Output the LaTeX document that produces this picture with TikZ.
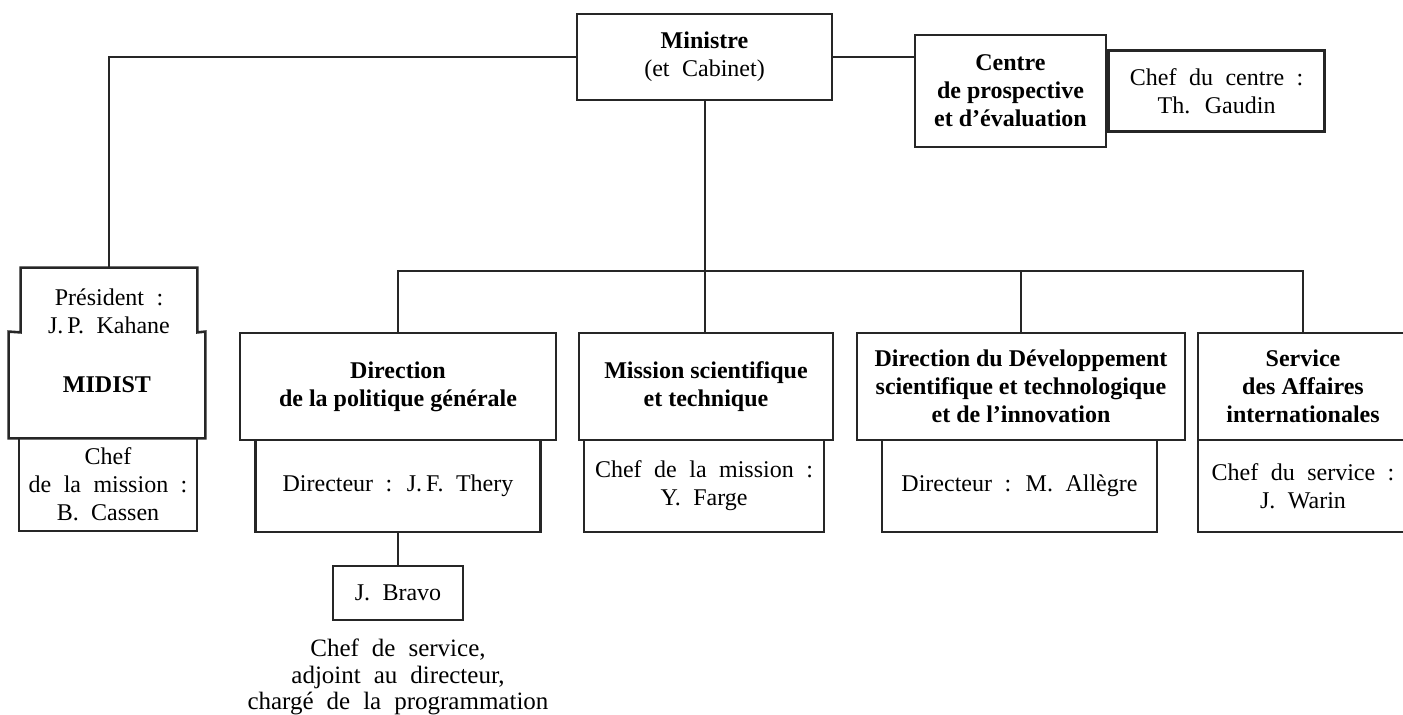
\documentclass[tikz,border=0pt]{standalone}
\usepackage{fontspec}
\setmainfont{Liberation Serif}
\usetikzlibrary{positioning}
\newcommand\widesp{\spaceskip=0.52em plus 0.1em\relax}
\newcommand\normsp{\spaceskip=0pt\relax}

\begin{document}
\begin{tikzpicture}[x=0.5pt,y=-0.5pt,
    every node/.style={font=\fontsize{12}{14}\selectfont\widesp},
    box/.style={draw=black!85,line width=1.3pt,align=center,inner sep=0pt},
    hd/.style={font=\fontsize{12}{14}\selectfont\bfseries\normsp},
    plain/.style={align=center,inner sep=0pt},
    lnk/.style={draw=black!85,line width=1pt}]

    \useasboundingbox (0,0) rectangle (1403,715);

    \node[box,hd,minimum width=127.5pt,minimum height=43pt] (Mi) at (704.5,57) {Ministre\\\mdseries\widesp (et Cabinet)};
    \node[box,hd,minimum width=95.5pt,minimum height=56pt] (CePr) at (1010.5,91) {Centre\\de prospective\\et d'évaluation};
    \node[box,minimum width=108pt,minimum height=40.5pt,anchor=west] (ChCe) at (CePr.east) {Chef du centre :\\Th. Gaudin};

    \node[plain,minimum width=88pt,minimum height=32pt] (MiUp) at (109,300) {};
    \node[plain] (MiPr) at (109,311) {Président :\\J.\,P. Kahane};
    \node[plain,hd,minimum width=98pt,minimum height=53pt] (MIDIST) at (107,385) {MIDIST};
    \node[box,minimum width=89pt,minimum height=46.5pt] (MiCh) at (108,484.5) {Chef\\de la mission :\\B. Cassen};

    \node[box,hd,minimum width=158pt,minimum height=53.5pt] (DiPo) at (398,386.5) {Direction\\de la politique générale};
    \node[box,minimum width=142.5pt,minimum height=46pt] (DiPoDi) at (398,486) {Directeur : J.\,F. Thery};

    \node[box,hd,minimum width=127pt,minimum height=53.5pt] (MiSc) at (706,386.5) {Mission scientifique\\et technique};
    \node[box,minimum width=120pt,minimum height=46pt] (MiScCh) at (704,486) {Chef de la mission :\\Y. Farge};

    \node[box,hd,minimum width=164pt,minimum height=53.5pt] (DiDe) at (1021,386.5) {Direction du Développement\\scientifique et technologique\\et de l'innovation};
    \node[box,minimum width=137.5pt,minimum height=46pt] (DiDeDi) at (1019.5,486) {Directeur : M. Allègre};

    \node[box,hd,minimum width=105pt,minimum height=53.5pt] (SeAf) at (1303,386.5) {Service\\des Affaires\\internationales};
    \node[box,minimum width=105pt,minimum height=46pt] (SeAfCh) at (1303,486) {Chef du service :\\J. Warin};

    \node[box,minimum width=65pt,minimum height=27pt] (Br) at (398,593) {J. Bravo};
    \node[plain,font=\fontsize{12.5}{13.2}\selectfont\widesp] (BrNo) at (398,677) {Chef de service,\\adjoint au directeur,\\chargé de la programmation};

    \draw[box] (MIDIST.south west) -- (MIDIST.north west) -- (MiUp.south west) -- (MiUp.north west)
        -- (MiUp.north east) -- (MiUp.south east) -- (MIDIST.north east) -- (MIDIST.south east) -- cycle;

    \coordinate (bus) at (0,271);

    \draw[lnk] (Mi.west) -| (MiUp.north);
    \draw[lnk] (Mi.east) -- (Mi.east -| CePr.west);
    \draw[lnk] (Mi.south) -- (Mi.south |- MiSc.north);
    \draw[lnk] (DiPo.north) -- (DiPo.north |- bus) -| (SeAf.north);
    \draw[lnk] (DiDe.north) -- (DiDe.north |- bus);
    \draw[lnk] (DiPoDi.south) -- (Br.north);

\end{tikzpicture}
\end{document}
